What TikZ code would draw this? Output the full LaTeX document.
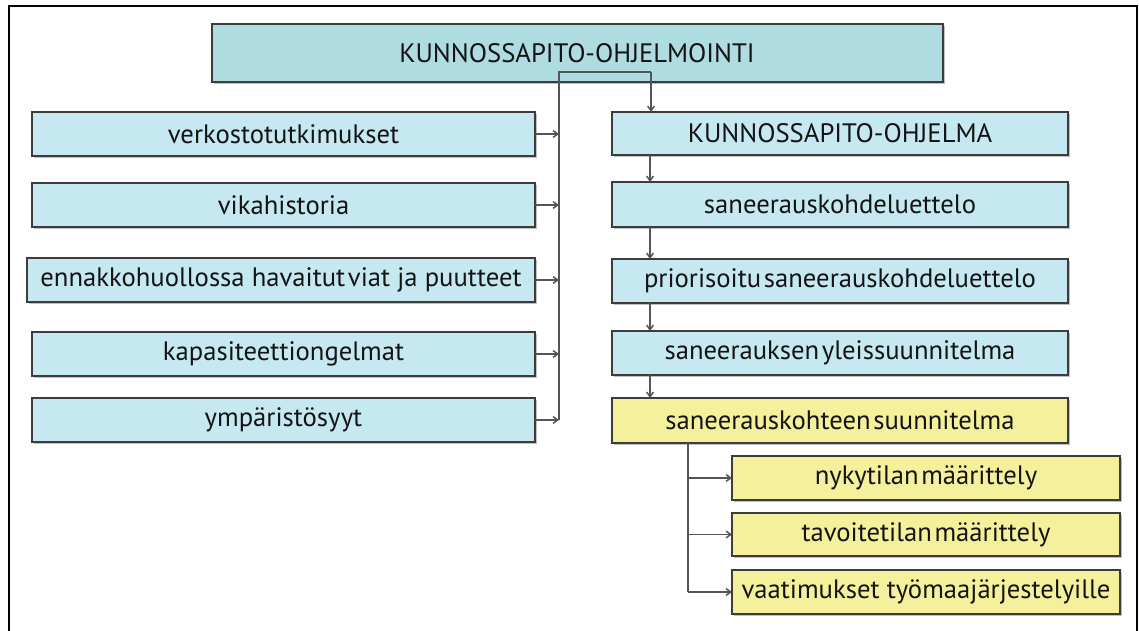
\documentclass[tikz,border=0pt]{standalone}
\usepackage{fontspec}
\setmainfont{PT Sans}
\usetikzlibrary{arrows.meta}
\definecolor{topfill}{HTML}{AEDCE0}
\definecolor{bluefill}{HTML}{C6E8F1}
\definecolor{yellowfill}{HTML}{F5F09B}
\definecolor{edge}{HTML}{3C3C3C}
\definecolor{wire}{HTML}{555555}
\newcommand{\tsp}{\hspace{2pt}}% tight word gap used in some labels
\tikzset{
  box/.style={draw=edge, line width=1.5pt, inner sep=0pt, outer sep=0pt, anchor=north west},
  label/.style={font=\fontsize{20}{24}\selectfont, text=black!92},
  link/.style={draw=wire, line width=1.1pt, -{Straight Barb[length=3.5pt,width=5pt]}},
  plain/.style={draw=wire, line width=1.1pt},
}
% rectangle node with a soft grey shadow; corners given in px
\newcommand{\ibox}[6]{% name, fill, x1, y1, x2, y2
  \fill[black!25] (#3+2,#4+2) rectangle (#5+2,#6+2);
  \node[box, fill=#2, minimum width={0.75pt*(#5-#3)}, minimum height={0.75pt*(#6-#4)}] (#1) at (#3,#4) {};
}
\begin{document}
\begin{tikzpicture}[x=0.75pt,y=-0.75pt]
\useasboundingbox (0,0) rectangle (1139,631);
\fill[white] (0,0) rectangle (1139,631);
% outer frame
\draw[line width=1.6pt, black] (9,631) -- (9,6) -- (1137,6) -- (1137,631);

% top box
\ibox{top}{topfill}{212}{24}{943}{82}
\node[label] at (577,53) {KUNNOSSAPITO-OHJELMOINTI};

% left column
\ibox{l1}{bluefill}{32}{112}{535}{156}
\ibox{l2}{bluefill}{32}{183}{535}{227}
\ibox{l3}{bluefill}{27}{258}{535}{302}
\ibox{l4}{bluefill}{32}{332}{535}{376}
\ibox{l5}{bluefill}{32}{398}{535}{442}
\node[label] at (l1.center) {verkostotutkimukset};
\node[label] at (l2.center) {vikahistoria};
\node[label] at (l3.center) {ennakkohuollossa havaitut\tsp viat ja puutteet};
\node[label] at (l4.center) {kapasiteettiongelmat};
\node[label] at (l5.center) {ympäristösyyt};

% right column
\ibox{r1}{bluefill}{612}{112}{1068}{155}
\ibox{r2}{bluefill}{612}{182}{1068}{227}
\ibox{r3}{bluefill}{612}{259}{1068}{303}
\ibox{r4}{bluefill}{612}{331}{1068}{375}
\ibox{r5}{yellowfill}{612}{398}{1068}{443}
\node[label] at (r1.center) {KUNNOSSAPITO-OHJELMA};
\node[label] at (r2.center) {saneerauskohdeluettelo};
\node[label] at (r3.center) {priorisoitu\tsp saneerauskohdeluettelo};
\node[label] at (r4.center) {saneerauksen\tsp yleissuunnitelma};
\node[label] at (r5.center) {saneerauskohteen\tsp suunnitelma};

% sub-items
\ibox{s1}{yellowfill}{732}{456}{1120}{500}
\ibox{s2}{yellowfill}{732}{513}{1120}{556}
\ibox{s3}{yellowfill}{732}{570}{1120}{614}
\node[label] at (s1.center) {nykytilan\tsp määrittely};
\node[label] at (s2.center) {tavoitetilan\tsp määrittely};
\node[label] at (s3.center) {vaatimukset työmaajärjestelyille};

% collecting bus from the source boxes to the programme
\coordinate (busTop) at (559,72);
\coordinate (busBot) at (559,420);
\coordinate (busTurn) at (651,72);
\draw[plain] (busBot) -- (busTop) -- (busTurn);
\draw[link] (busTurn) -- (r1.north -| busTurn);
\foreach \i in {1,...,5} {
  \draw[link] (l\i.east) -- (l\i.east -| busTop);
}

% programme chain
\coordinate (chain) at (650,0);
\draw[link] (r1.south -| chain) -- (r2.north -| chain);
\draw[link] (r2.south -| chain) -- (r3.north -| chain);
\draw[link] (r3.south -| chain) -- (r4.north -| chain);
\draw[link] (r4.south -| chain) -- (r5.north -| chain);

% plan breakdown
\coordinate (sub) at (688,0);
\draw[plain] (r5.south -| sub) -- (s3.west -| sub);
\foreach \i in {1,2,3} {
  \draw[link] (s\i.west -| sub) -- (s\i.west);
}
\end{tikzpicture}
\end{document}
